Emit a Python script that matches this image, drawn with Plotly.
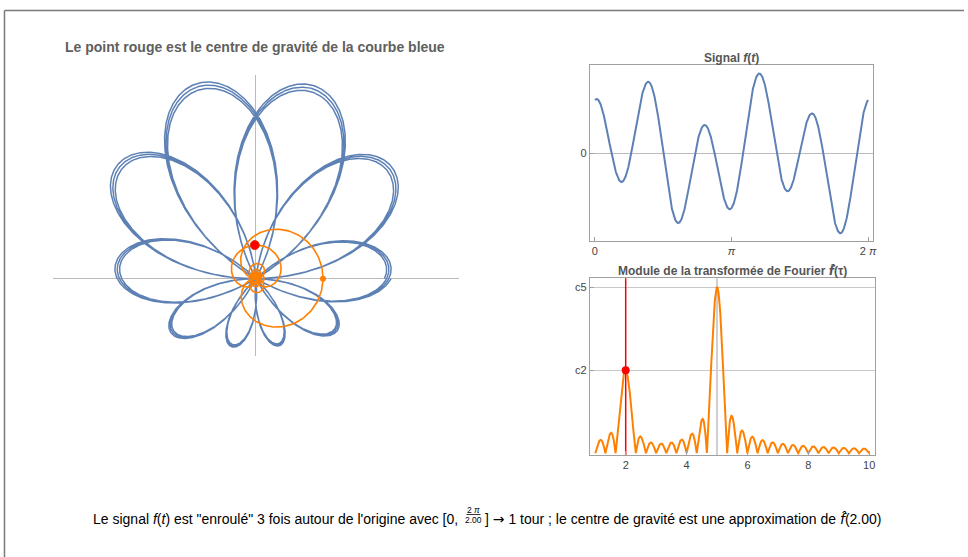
import numpy as np
import plotly.graph_objects as go

# ---------------- data ----------------
signal_freqs = [2.0, 5.0]          # components of f(t) (peaks of |f^|)
signal_amps = [1.0, 2.0]           # c2, c5  (c5 ~ 2 * c2)
signal_phases_deg = [-92.0, 0.0]   # phases of the components
winding_freq = 2.00                # winding frequency shown in the caption
n_signal_periods = 3               # window [0, 3 * 2pi]
winding_spread = [0.975, 1.025]    # radial spread of the 3 superposed windings
tau_limits = [1.0, 10.0]
signal_tickvals = [0.0, np.pi, 2 * np.pi]
signal_ticktext = ["0", "<i>π</i>", "2 <i>π</i>"]
ft_tickvals = [2, 4, 6, 8, 10]
ft_ytickvals = [0.5, 1.0]
ft_yticktext = ["c2", "c5"]

W, H = 968, 557
BLUE = "#5E81B5"
ORANGE = "#FF8000"
GRAY_TXT = "#555555"
FONT = "Liberation Sans, Arial, Helvetica, sans-serif"
FHAT = "<span style=\"font-family:'DejaVu Sans'\"><i>f̂</i></span>"

T = n_signal_periods * 2 * np.pi


def signal(t):
    out = np.zeros_like(t, dtype=float)
    for w, a, p in zip(signal_freqs, signal_amps, signal_phases_deg):
        out += a * np.cos(w * t + np.deg2rad(p))
    return out


def mean_exp(alpha):
    # (1/T) * integral_0^T exp(i alpha t) dt
    return np.exp(1j * alpha * T / 2) * np.sinc(alpha * T / (2 * np.pi))


def fourier(tau):
    tau = np.asarray(tau, dtype=float)
    F = np.zeros_like(tau, dtype=complex)
    for w, a, p in zip(signal_freqs, signal_amps, signal_phases_deg):
        ph = np.deg2rad(p)
        F += a / 2 * (np.exp(1j * ph) * mean_exp(tau + w) + np.exp(-1j * ph) * mean_exp(tau - w))
    return F


# signal on [0, 2pi]
t_sig = np.linspace(0, 2 * np.pi, 1200)
f_sig = signal(t_sig)

# wound curve
t_w = np.linspace(0, T, 9000)
spread = np.linspace(winding_spread[0], winding_spread[1], t_w.size)
z = spread * signal(t_w) * np.exp(1j * winding_freq * t_w)

# Fourier transform
tau = np.linspace(tau_limits[0], tau_limits[1], 3000)
F = fourier(tau)
F_w = fourier([winding_freq])[0]
F_peak = fourier([signal_freqs[1]])[0]


def px_x(x0, x1):
    return [x0 / W, x1 / W]


def px_y(top, bottom):
    return [(H - bottom) / H, (H - top) / H]


fig = go.Figure()

# ---- left: wound curve ----
fig.add_trace(go.Scatter(x=z.real, y=z.imag, mode="lines",
                         line=dict(color=BLUE, width=1.5), xaxis="x", yaxis="y",
                         hoverinfo="skip"))
fig.add_trace(go.Scatter(x=F.real, y=F.imag, mode="lines",
                         line=dict(color=ORANGE, width=1.6), xaxis="x", yaxis="y",
                         hoverinfo="skip"))
fig.add_trace(go.Scatter(x=[F_peak.real], y=[F_peak.imag], mode="markers",
                         marker=dict(color=ORANGE, size=6), xaxis="x", yaxis="y"))
fig.add_trace(go.Scatter(x=[F_w.real], y=[F_w.imag], mode="markers",
                         marker=dict(color="#FF0000", size=9, line=dict(color="#E03000", width=1)),
                         xaxis="x", yaxis="y"))

# ---- signal ----
fig.add_trace(go.Scatter(x=t_sig, y=f_sig, mode="lines",
                         line=dict(color=BLUE, width=2), xaxis="x2", yaxis="y2"))

# ---- Fourier modulus ----
fig.add_trace(go.Scatter(x=[signal_freqs[1]] * 2, y=[-0.02, 1.06], mode="lines",
                         line=dict(color="#CFCFCF", width=2), xaxis="x3", yaxis="y3"))
fig.add_trace(go.Scatter(x=tau, y=np.abs(F), mode="lines",
                         line=dict(color=ORANGE, width=2), xaxis="x3", yaxis="y3"))
fig.add_trace(go.Scatter(x=[winding_freq] * 2, y=[-0.02, 1.06], mode="lines",
                         line=dict(color="#FF0000", width=1.5), xaxis="x3", yaxis="y3"))
fig.add_trace(go.Scatter(x=[winding_freq], y=[abs(F_w)], mode="markers",
                         marker=dict(color="#FF0000", size=8), xaxis="x3", yaxis="y3"))

tickfont = dict(family=FONT, size=11, color="#444444")
frame = dict(showline=True, mirror=True, linecolor="#A0A0A0", linewidth=1,
             ticks="inside", ticklen=4, tickcolor="#A0A0A0", tickfont=tickfont)

fig.update_layout(
    width=W, height=H, margin=dict(l=0, r=0, t=0, b=0),
    paper_bgcolor="white", plot_bgcolor="white", showlegend=False,
    xaxis=dict(domain=px_x(53, 461), range=[-3.03, 3.03], showgrid=False,
               zeroline=True, zerolinecolor="#BBBBBB", zerolinewidth=1,
               showticklabels=False, ticks=""),
    yaxis=dict(domain=px_y(75, 356), range=[-1.15, 3.03], showgrid=False,
               zeroline=True, zerolinecolor="#BBBBBB", zerolinewidth=1,
               showticklabels=False, ticks=""),
    xaxis2=dict(domain=px_x(592.3, 876.7), range=[-0.1145, 6.3977], anchor="y2",
                tickvals=signal_tickvals, ticktext=signal_ticktext,
                showgrid=False, zeroline=False, **frame),
    yaxis2=dict(domain=px_y(65, 241), range=[-3.25, 3.26], anchor="x2",
                tickvals=[0], ticktext=["0"], showgrid=False,
                zeroline=True, zerolinecolor="#BBBBBB", zerolinewidth=1, **frame),
    xaxis3=dict(domain=px_x(592.3, 878.3), range=[0.822, 10.18], anchor="y3",
                tickvals=ft_tickvals, showgrid=False, zeroline=False, **frame),
    yaxis3=dict(domain=px_y(278.3, 455), range=[-0.0102, 1.054], anchor="x3",
                tickvals=ft_ytickvals, ticktext=ft_yticktext,
                showgrid=True, gridcolor="#C8C8C8", gridwidth=1, zeroline=False, **frame),
)

ann = []


def add_text(text, x, y, size, color, xanchor="center"):
    ann.append(dict(text=text, x=x / W, y=(H - y) / H, xref="paper", yref="paper",
                    showarrow=False, xanchor=xanchor, yanchor="middle",
                    font=dict(family=FONT, size=size, color=color)))


add_text("<b>Le point rouge est le centre de gravité de la courbe bleue</b>", 256.5, 47, 14, "#606060")
add_text("<b>Signal <i>f</i>(<i>t</i>)</b>", 735, 58, 12, GRAY_TXT)
add_text("<b>Module de la transformée de Fourier " + FHAT + "(τ)</b>", 735.5, 271, 12, GRAY_TXT)

add_text("Le signal <i>f</i>(<i>t</i>) est \"enroulé\" 3 fois autour de l'origine avec [0,",
         462, 518.5, 14, "#000000", xanchor="right")
add_text("2 <i>π</i>", 475.5, 509.5, 8.5, "#000000")
add_text("%.2f" % winding_freq, 475.5, 520, 8.5, "#000000")
add_text("] <span style=\"font-family:'DejaVu Sans'\">→</span> 1 tour ; le centre de gravité est une "
         "approximation de " + FHAT + "(%.2f)" % winding_freq,
         485.5, 518.5, 14, "#000000", xanchor="left")
fig.update_layout(annotations=ann)

shapes = [
    # fraction bar
    dict(type="line", xref="paper", yref="paper", x0=468.5 / W, x1=482.5 / W,
         y0=(H - 514.5) / H, y1=(H - 514.5) / H, line=dict(color="black", width=0.8)),
    # outer frame (top and left)
    dict(type="line", xref="paper", yref="paper", x0=4.5 / W, x1=1,
         y0=(H - 10.5) / H, y1=(H - 10.5) / H, line=dict(color="#7A7A7A", width=1.5)),
    dict(type="line", xref="paper", yref="paper", x0=4.5 / W, x1=4.5 / W,
         y0=0, y1=(H - 10.5) / H, line=dict(color="#7A7A7A", width=1.5)),
]
fig.update_layout(shapes=shapes)

fig.write_html("out.html", config={"displayModeBar": False},
               post_script="document.body.style.margin='0';document.body.style.overflow='hidden';")
